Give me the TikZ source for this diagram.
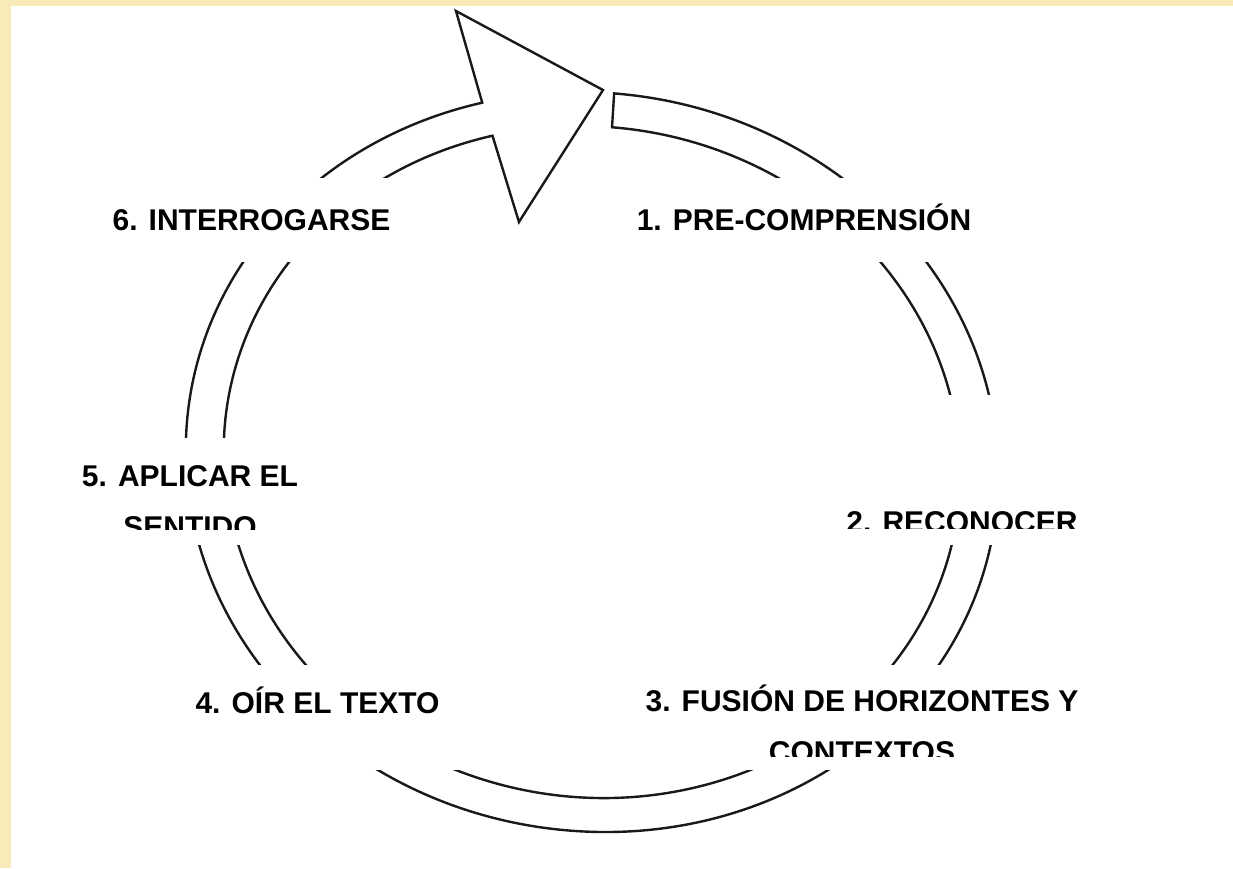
\documentclass[tikz,border=0pt]{standalone}
\usepackage{fontspec}
\setmainfont{Liberation Sans}
\definecolor{cream}{RGB}{249,234,186}
\definecolor{ink}{RGB}{25,25,25}
\begin{document}
\begin{tikzpicture}
[x=1pt, y=-1pt, line width=2.4pt,
 box/.style={fill=white, inner sep=0pt},
 lbl/.style={inner sep=0pt, anchor=base, align=center, font=\fontsize{30}{51}\selectfont\bfseries}]
\useasboundingbox (0,0) rectangle (1233,868);
\fill[cream] (0,0) rectangle (1233,868);
\fill[white] (11,6) rectangle (1233,868);

% the cycle band with its big arrow head
\begin{scope}[shift={(592,462)}, xslant=-0.036]
\draw[ink, line join=miter] (-85:406 and 370)
  arc[start angle=-85, end angle=256.2, x radius=406, y radius=370]
  -- (-119.8,-451) -- (24.4,-372) -- (-64.4,-240) -- (256.2:368 and 336)
  arc[start angle=256.2, end angle=-85, x radius=368, y radius=336] -- cycle;
\end{scope}

\node[box, minimum width=400, minimum height=84] (PreBox) at (804,220) {};
\node[box, minimum width=240, minimum height=150] (RecBox) at (960,470) {};
\node[box, minimum width=440, minimum height=105] (FusBox) at (860,717.5) {};
\node[box, minimum width=270, minimum height=105] (OirBox) at (325,717.5) {};
\node[box, minimum width=220, minimum height=107] (AplBox) at (190,491.5) {};
\node[box, minimum width=300, minimum height=84] (IntBox) at (251,220) {};

% last line of a two-line label sits on the given base
\node[lbl] (Pre) at (804,230) {1. PRE-COMPRENSIÓN};
\begin{scope}
\clip (RecBox.north west) rectangle (1080,528);
\node[lbl] (Rec) at (962,532) {2. RECONOCER};
\end{scope}
\begin{scope}
\clip (FusBox.north west) rectangle (1080,756);
\node[lbl] (Fus) at (862,762) {3. FUSIÓN DE HORIZONTES Y\\CONTEXTOS};
\end{scope}
\node[lbl] (Oir) at (317.5,713) {4. OÍR EL TEXTO};
\begin{scope}
\clip (AplBox.north west) rectangle (300,529);
\node[lbl] (Apl) at (190,537) {5. APLICAR EL\\SENTIDO};
\end{scope}
\node[lbl] (Int) at (251.5,230) {6. INTERROGARSE};
\end{tikzpicture}
\end{document}
